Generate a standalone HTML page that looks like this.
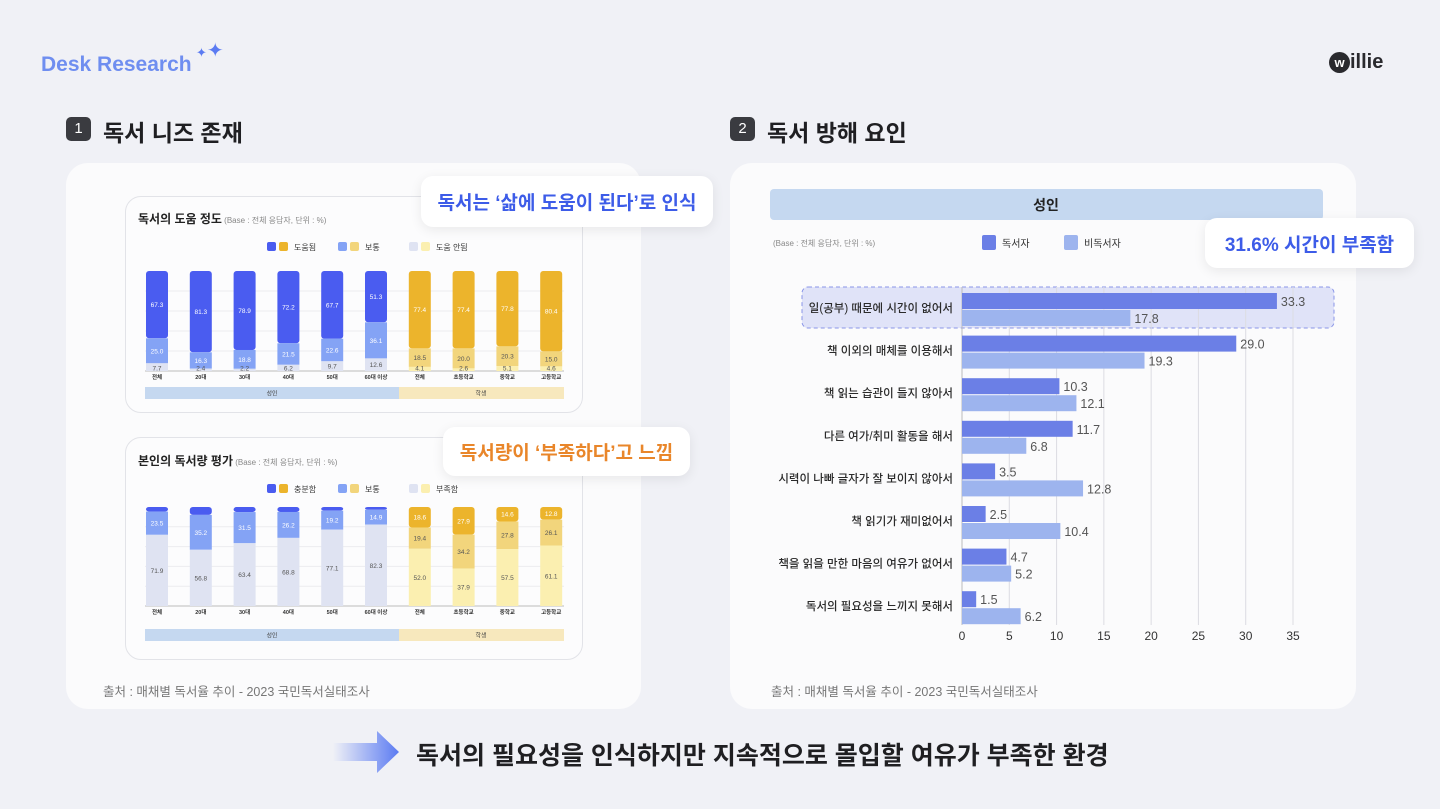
<!DOCTYPE html>
<html><head><meta charset="utf-8">
<style>
*{margin:0;padding:0;box-sizing:border-box}
body{width:1440px;height:809px;background:#f0f1f6;font-family:"Liberation Sans","Noto Sans CJK KR",sans-serif;position:relative;overflow:hidden;color:#222}
.abs{position:absolute}
.card{position:absolute;background:#fbfbfc;border-radius:22px}
.inner{position:absolute;border:1px solid #e2e3e8;border-radius:16px;background:#fcfcfd}
.num{position:absolute;width:25px;height:24px;background:#3a3b40;border-radius:5px;color:#fff;font-size:15px;text-align:center;line-height:24px}
.h2{position:absolute;font-size:23px;font-weight:bold;color:#1f1f22}
.callout{position:absolute;background:#fff;border-radius:12px;box-shadow:0 3px 12px rgba(0,0,0,0.08);font-weight:bold;font-size:19px;display:flex;align-items:center;justify-content:center}
.src{position:absolute;font-size:12.5px;color:#777}
svg text{font-family:"Liberation Sans","Noto Sans CJK KR",sans-serif}
</style></head><body>
<div class="abs" style="left:41px;top:53px;font-size:21px;font-weight:bold;color:#6f8ef0">Desk Research</div>
<div class="abs" style="left:196px;top:38px;color:#5b7bf2;font-size:13px">✦<span style="font-size:20px">✦</span></div>
<div class="abs" style="left:1329px;top:51px;font-size:20px;font-weight:bold;color:#2a2a2e"><span style="display:inline-block;width:21px;height:21px;border-radius:50%;background:#2a2a2e;color:#fff;font-size:13px;text-align:center;line-height:21px;vertical-align:top;margin-top:1px">w</span>illie</div>

<div class="num" style="left:66px;top:117px">1</div>
<div class="h2" style="left:103px;top:114px">독서 니즈 존재</div>
<div class="num" style="left:730px;top:117px">2</div>
<div class="h2" style="left:767px;top:114px">독서 방해 요인</div>

<div class="card" style="left:66px;top:163px;width:575px;height:546px"></div>
<div class="card" style="left:730px;top:163px;width:626px;height:546px"></div>

<div class="inner" style="left:125px;top:196px;width:458px;height:217px"></div>
<div class="inner" style="left:125px;top:437px;width:458px;height:223px"></div>

<svg class="abs" style="left:0;top:0" width="1440" height="809" id="svg"></svg>

<div class="callout" style="left:421px;top:176px;width:292px;height:51px;color:#3d5ce8">독서는 ‘삶에 도움이 된다’로 인식</div>
<div class="callout" style="left:443px;top:427px;width:247px;height:49px;color:#e9862a">독서량이 ‘부족하다’고 느낌</div>
<div class="callout" style="left:1205px;top:218px;width:209px;height:50px;color:#3d5ce8">31.6% 시간이 부족함</div>

<div class="src" style="left:103px;top:681px">출처 : 매채별 독서율 추이 - 2023 국민독서실태조사</div>
<div class="src" style="left:771px;top:681px">출처 : 매채별 독서율 추이 - 2023 국민독서실태조사</div>

<div class="abs" style="left:333px;top:731px;width:66px;height:42px">
<svg width="66" height="42"><defs><linearGradient id="ag" x1="0" x2="1"><stop offset="0" stop-color="#5b7bf2" stop-opacity="0"/><stop offset="1" stop-color="#5b7bf2"/></linearGradient></defs><path d="M0 12 H44 V0 L66 21 L44 42 V30 H0 Z" fill="url(#ag)"/></svg></div>
<div class="abs" style="left:416px;top:736px;font-size:25px;font-weight:bold;color:#1f1f22">독서의 필요성을 인식하지만 지속적으로 몰입할 여유가 부족한 환경</div>

<script>
// Chart 1: 독서의 도움 정도
const helpCats=['전체','20대','30대','40대','50대','60대 이상','전체','초등학교','중학교','고등학교'];
const helpTop=[67.3,81.3,78.9,72.2,67.7,51.3,77.4,77.4,77.8,80.4];
const helpMid=[25.0,16.3,18.8,21.5,22.6,36.1,18.5,20.0,20.3,15.0];
const helpLow=[7.7,2.4,2.2,6.2,9.7,12.6,4.1,2.6,5.1,4.6];
// Chart 2: 본인의 독서량 평가
const amtCats=['전체','20대','30대','40대','50대','60대 이상','전체','초등학교','중학교','고등학교'];
const amtTop=[4.6,8.0,5.1,5.0,3.7,2.8,18.6,27.9,14.6,12.8];
const amtTopLabel=[null,null,null,null,null,null,'18.6','27.9','14.6','12.8'];
const amtMid=[23.5,35.2,31.5,26.2,19.2,14.9,19.4,34.2,27.8,26.1];
const amtLow=[71.9,56.8,63.4,68.8,77.1,82.3,52.0,37.9,57.5,61.1];
// Chart 3: 독서 방해 요인
const reasonCats=['일(공부) 때문에 시간이 없어서','책 이외의 매체를 이용해서','책 읽는 습관이 들지 않아서','다른 여가/취미 활동을 해서','시력이 나빠 글자가 잘 보이지 않아서','책 읽기가 재미없어서','책을 읽을 만한 마음의 여유가 없어서','독서의 필요성을 느끼지 못해서'];
const readers=[33.3,29.0,10.3,11.7,3.5,2.5,4.7,1.5];
const nonReaders=[17.8,19.3,12.1,6.8,12.8,10.4,5.2,6.2];
const xTicks=[0,5,10,15,20,25,30,35];

const svg=document.getElementById('svg');
const NS='http://www.w3.org/2000/svg';
function mk(tag,attrs,parent){const e=document.createElementNS(NS,tag);for(const k in attrs)e.setAttribute(k,attrs[k]);(parent||svg).appendChild(e);return e;}
function txt(x,y,s,attrs){const t=mk('text',Object.assign({x:x,y:y},attrs));t.textContent=s;return t;}

const blues=['#4a5cf0','#84a3f5','#dfe3f2'];
const yellows=['#ecb42c','#f2d57c','#fbefb0'];
function xBand(i){return 157+i*43.8;}

function stackChart(cfg){
  const g=mk('g',{});
  
  
  const t=txt(138,cfg.titleY,cfg.title,{'font-size':12,'font-weight':'bold',fill:'#222'});
  
  
  g.appendChild(t);
  const b=document.createElementNS(NS,'tspan');b.setAttribute('font-size','8');b.setAttribute('font-weight','normal');b.setAttribute('fill','#888');b.textContent='  (Base : 전체 응답자, 단위 : %)';t.appendChild(b);
  const lx=[267,338,409];
  cfg.legend.forEach((s,i)=>{
    const r1=mk('rect',{x:lx[i],y:cfg.legY,width:9,height:9,rx:2,fill:blues[i]},g);
    
    
    mk('rect',{x:lx[i]+12,y:cfg.legY,width:9,height:9,rx:2,fill:yellows[i]},g);
    const lt=txt(lx[i]+27,cfg.legY+8,s,{'font-size':8,fill:'#333'});
    
    
    g.appendChild(lt);
  });
  for(let k=0;k<=4;k++){const gy=cfg.y0-k*(cfg.h/5);mk('line',{x1:145,x2:564,y1:gy,y2:gy,stroke:'#ececef','stroke-width':1},g);}
  mk('line',{x1:145,x2:564,y1:cfg.y0,y2:cfg.y0,stroke:'#bbb','stroke-width':1},g);
  cfg.cats.forEach((c,i)=>{
    const pal=i<6?blues:yellows;
    const vals=[cfg.top[i],cfg.mid[i],cfg.low[i]];
    const tot=vals[0]+vals[1]+vals[2];
    const sc=cfg.h/tot;
    const x=xBand(i)-11;
    let y=cfg.y0;
    const segs=[];
    for(let s=2;s>=0;s--){const hh=vals[s]*sc;y-=hh;segs[s]={y:y,h:hh};}
    for(let s=0;s<3;s++){
      const r=mk('rect',{x:x,y:segs[s].y,width:22,height:segs[s].h,fill:pal[s],rx:s===0?3:0},g);
      
      
      let lab=cfg.labels?cfg.labels[s][i]:vals[s].toFixed(1);
      if(lab!==null){
        const col=(s===0||(s===1&&i<6))?'#fff':'#555';
        let ly=segs[s].y+segs[s].h/2+2.5;
        if(segs[s].h<8) ly=segs[s].y+segs[s].h-0.5;
        txt(xBand(i),ly,lab,{'font-size':6.5,'text-anchor':'middle',fill:s===2&&i<6?'#555':col});
      }
    }
    txt(xBand(i),cfg.y0+8,c,{'font-size':5.5,'font-weight':'bold','text-anchor':'middle',fill:'#333'});
  });
  const ba=mk('rect',{x:145,y:cfg.bandY,width:254,height:12,fill:'#c5d8f0'},g);
  
  
  const bs=mk('rect',{x:399,y:cfg.bandY,width:165,height:12,fill:'#f7e8bd'},g);
  
  
  txt(272,cfg.bandY+8.5,'성인',{'font-size':6,'text-anchor':'middle',fill:'#444'});
  txt(481,cfg.bandY+8.5,'학생',{'font-size':6,'text-anchor':'middle',fill:'#444'});
}
stackChart({name:'help-chart',title:'독서의 도움 정도',titleY:223,legY:242,legend:['도움됨','보통','도움 안됨'],cats:helpCats,top:helpTop,mid:helpMid,low:helpLow,y0:371,h:100,bandY:387});
stackChart({name:'amount-chart',title:'본인의 독서량 평가',titleY:465,legY:484,legend:['충분함','보통','부족함'],cats:amtCats,top:amtTop,mid:amtMid,low:amtLow,labels:[amtTopLabel,amtMid.map(v=>v.toFixed(1)),amtLow.map(v=>v.toFixed(1))],y0:606,h:99,bandY:629});

// Chart 3
const X0=962,PX=331/35;
function xs(v){return X0+v*PX;}
function rowY(i){return 308+i*42.6;}
const g3=mk('g',{});


const hb=mk('rect',{x:770,y:189,width:553,height:31,rx:4,fill:'#c5d8f0'},g3);


txt(1046,210,'성인',{'font-size':14,'font-weight':'bold','text-anchor':'middle',fill:'#222'});
txt(773,246,'(Base : 전체 응답자, 단위 : %)',{'font-size':8,fill:'#888'});
const l1=mk('rect',{x:982,y:235,width:14,height:15,rx:2,fill:'#6b7fe6'},g3);


txt(1002,247,'독서자',{'font-size':10,fill:'#333'});
const l2=mk('rect',{x:1064,y:235,width:14,height:15,rx:2,fill:'#9db4ee'},g3);


txt(1084,247,'비독서자',{'font-size':10,fill:'#333'});
const hl=mk('rect',{x:802,y:287,width:532,height:41,rx:6,fill:'#e0e3f8',stroke:'#8a96e8','stroke-dasharray':'4 3','stroke-width':1},g3);


xTicks.forEach(t=>{
  mk('line',{x1:xs(t),x2:xs(t),y1:287,y2:625,stroke:t===0?'#bbb':'#dcdce2','stroke-width':1},g3);
  txt(xs(t),640,String(t),{'font-size':12,'text-anchor':'middle',fill:'#333'});
});
reasonCats.forEach((c,i)=>{
  const cy=rowY(i);
  txt(953,cy+4,c,{'font-size':11.5,'font-weight':'500','text-anchor':'end',fill:'#2a2a2a'});
  const r1=mk('rect',{x:X0,y:cy-15,width:xs(readers[i])-X0,height:16,fill:'#6b7fe6'},g3);
  
  
  const r2=mk('rect',{x:X0,y:cy+2,width:xs(nonReaders[i])-X0,height:16,fill:'#9db4ee'},g3);
  
  
  txt(xs(readers[i])+4,cy-2,readers[i].toFixed(1),{'font-size':12.5,fill:'#555'});
  txt(xs(nonReaders[i])+4,cy+15,nonReaders[i].toFixed(1),{'font-size':12.5,fill:'#555'});
});
</script>
</body></html>
